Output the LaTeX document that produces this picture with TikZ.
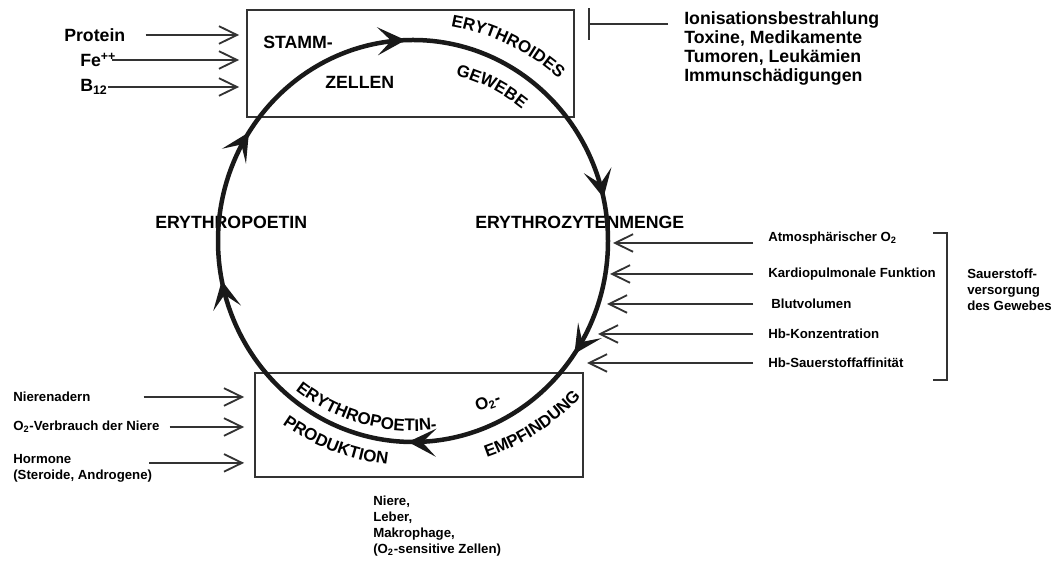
\documentclass[tikz,border=0pt]{standalone}
\usepackage{fontspec}
\setmainfont{Liberation Sans}
\usepackage{tikz}
\usetikzlibrary{arrows.meta, calc, decorations.markings, decorations.text}

\newlength{\einh}\setlength{\einh}{0.025cm}
\newcommand{\gross}{\fontsize{12.6}{13.6}\selectfont\bfseries}
\newcommand{\mittel}{\fontsize{12}{13.5}\selectfont\bfseries}
\newcommand{\klein}{\fontsize{9.4}{11.2}\selectfont\bfseries}

\tikzset{
	kasten/.style={draw=black!80, line width=1.3pt},
	zu/.style={draw=black!80, line width=1.3pt, -{Straight Barb[length=4.5mm, width=4.4mm]}},
	etikett/.style={inner sep=0pt, anchor=west, font=\klein, align=left},
	titel/.style={inner sep=0pt, anchor=west, font=\gross},
	kreis/.style={line width=3.2pt, draw=black!90},
	bogentext/.style={decorate, decoration={text along path, text align=center, text={|\mittel|#1}}},
}

\begin{document}
\begin{tikzpicture}[x=0.025cm, y=0.025cm]
		\useasboundingbox[fill=white] (0,0) rectangle (1053,563);
		\coordinate (mitte) at (413,322);
		
		% Kaesten
		\node[kasten, minimum width=327\einh, minimum height=107\einh, inner sep=0pt] (oben) at (410.5,499.5) {};
		\node[kasten, minimum width=328\einh, minimum height=104\einh, inner sep=0pt] (unten) at (419,138) {};
		
		% Eingaenge oben links
		\node[titel] (protein) at (64,528) {Protein};
		\node[titel] (fe) at (80,503) {Fe\textsuperscript{++}};
		\node[titel] (bzwoelf) at (80,476) {B\textsubscript{12}};
		\draw[zu, shorten <=20\einh, shorten >=7\einh] (protein.east) -- (protein.east -| oben.west);
		\draw[zu, shorten <=-4\einh, shorten >=7\einh] (fe.east) -- (fe.east -| oben.west);
		\draw[zu, shorten >=7\einh] (bzwoelf.east) -- (bzwoelf.east -| oben.west);
		
		% Hemmung oben rechts
		\node[anchor=north west, inner sep=0pt, font=\gross, align=left] (schaden) at (684,552)
			{Ionisationsbestrahlung\\Toxine, Medikamente\\Tumoren, Leukämien\\Immunschädigungen};
		\coordinate (hemm) at (588,539);
		\draw[kasten, -{Bar[width=0.8cm]}] ($(schaden.north west |- hemm)+(-16,0)$) -- (hemm);
		
		% Sauerstoffversorgung rechts
		\node[etikett] (atmo) at (768,325) {Atmosphärischer O\textsubscript{2}};
		\node[etikett] (kardio) at (768,289) {Kardiopulmonale Funktion};
		\node[etikett] (blut) at (771,259) {Blutvolumen};
		\node[etikett] (hbk) at (768,229) {Hb-Konzentration};
		\node[etikett] (hbs) at (768,200) {Hb-Sauerstoffaffinität};
		\coordinate (e1) at (613,320);
		\coordinate (e2) at (610,289);
		\coordinate (e3) at (607,259);
		\coordinate (e4) at (598,229);
		\coordinate (e5) at (587,200);
		\draw[zu] ($(atmo.west)+(-15,-5)$) -- (e1);
		\draw[zu] ($(kardio.west)+(-15,0)$) -- (e2);
		\draw[zu] ($(blut.west)+(-18,0)$) -- (e3);
		\draw[zu] ($(hbk.west)+(-15,0)$) -- (e4);
		\draw[zu] ($(hbs.west)+(-15,0)$) -- (e5);
		\draw[kasten] (933,330) -- (947,330) -- (947,183) -- (933,183);
		\node[etikett] (sauer) at (967,273) {Sauerstoff-\\versorgung\\des Gewebes};
		
		% Eingaenge unten links
		\node[etikett] (niere) at (13,166) {Nierenadern};
		\node[etikett] (verbrauch) at (13,136) {O\textsubscript{2}-Verbrauch der Niere};
		\node[etikett] (hormon) at (13,95) {Hormone\\(Steroide, Androgene)};
		\coordinate (hstart) at ($(hormon.north east)+(-3,-9)$);
		\draw[zu, shorten <=53\einh, shorten >=10\einh] (niere.east) -- (niere.east -| unten.west);
		\draw[zu, shorten <=10\einh, shorten >=10\einh] (verbrauch.east) -- (verbrauch.east -| unten.west);
		\draw[zu, shorten >=10\einh] (hstart) -- (hstart -| unten.west);
		\node[anchor=north west, inner sep=0pt, font=\klein, align=left] (organe) at (373,67)
			{Niere,\\Leber,\\Makrophage,\\(O\textsubscript{2}-sensitive Zellen)};
		
		% Beschriftung im Kreis
		\node[titel] (stamm) at (263,521) {STAMM-};
		\node[titel] (zellen) at (325,481) {ZELLEN};
		\node[titel] (epo) at (155,341) {ERYTHROPOETIN};
		\node[titel] (menge) at (475,341) {ERYTHROZYTENMENGE};
		\node[font=\mittel, rotate=20, inner sep=0pt] (osensor) at (488,160) {O\textsubscript{2}-};
		\path[bogentext=ERYTHROIDES] (mitte) ++(94:218) arc[start angle=94, end angle=34, radius=218];
		\path[bogentext=GEWEBE] (mitte) ++(93:171) arc[start angle=93, end angle=33, radius=171];
		\path[bogentext=ERYTHROPOETIN-] (mitte) ++(219:190) arc[start angle=219, end angle=290, radius=190];
		\path[bogentext=PRODUKTION] (mitte) ++(214:225) arc[start angle=214, end angle=284, radius=225];
		\path[bogentext=EMPFINDUNG] (mitte) ++(268:229) arc[start angle=268, end angle=338, radius=229];
		
		% Kreislauf
		\draw[kreis, postaction={decorate}, decoration={markings,
			mark=at position 0.092 with {\arrow{Stealth[length=7mm, width=7mm, inset=3.4mm]}},
			mark=at position 0.244 with {\arrow{Stealth[length=7mm, width=7mm, inset=3.4mm]}},
			mark=at position 0.465 with {\arrow{Stealth[length=7mm, width=7mm, inset=3.4mm]}},
			mark=at position 0.596 with {\arrow{Stealth[length=7mm, width=7mm, inset=3.4mm]}},
			mark=at position 0.754 with {\arrow{Stealth[length=7mm, width=7mm, inset=3.4mm]}},
			mark=at position 0.968 with {\arrow{Stealth[length=7mm, width=7mm, inset=3.4mm]}}}]
			(mitte) ++(-195,0) arc[start angle=180, end angle=-180, x radius=195, y radius=201];
	\end{tikzpicture}
\end{document}
